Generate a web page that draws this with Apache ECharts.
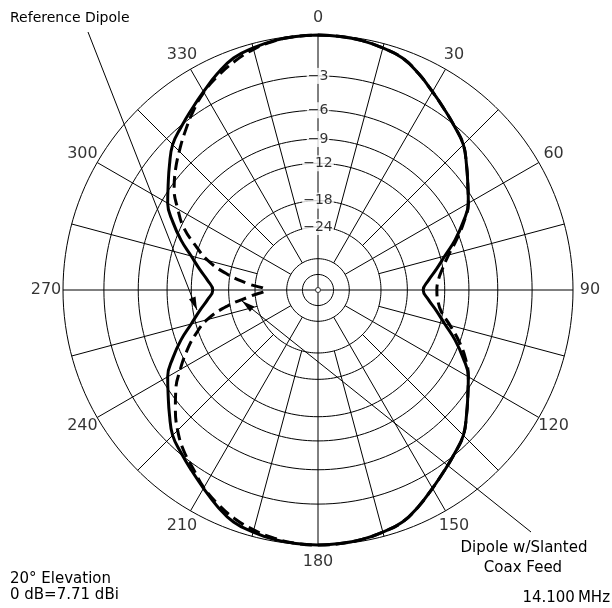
<!DOCTYPE html>
<html>
<head>
<meta charset="utf-8">
<script src="https://cdn.jsdelivr.net/npm/echarts@6/dist/echarts.min.js"></script>
<style>
  html, body { margin: 0; padding: 0; background: #fff; }
  #chart { width: 612px; height: 608px; }
</style>
</head>
<body>
<div id="chart"></div>
<script>
// azimuth in degrees, 0 = broadside (top), clockwise
const angles = [0, 5, 10, 15, 20, 25, 30, 35, 40, 45, 50, 55, 60, 65, 70, 75, 80, 85,
  90, 95, 100, 105, 110, 115, 120, 125, 130, 135, 140, 145, 150, 155, 160, 165, 170, 175,
  180, 185, 190, 195, 200, 205, 210, 215, 220, 225, 230, 235, 240, 245, 250, 255, 260, 265,
  270, 275, 280, 285, 290, 295, 300, 305, 310, 315, 320, 325, 330, 335, 340, 345, 350, 355];

// relative gain in dB (0 dB = 7.71 dBi)
const referenceDipole = [0, -0.03, -0.12, -0.3, -0.55, -1.15, -1.85, -2.5, -3.1, -3.7, -4.7, -5.7, -6.6, -8.0, -9.6, -11.4, -12.9, -14.3,
  -15.2, -14.3, -12.9, -11.4, -9.6, -8.0, -6.6, -5.7, -4.7, -3.7, -3.1, -2.5, -1.85, -1.15, -0.55, -0.3, -0.12, -0.03,
  0, -0.03, -0.12, -0.3, -0.55, -1.15, -1.85, -2.5, -3.1, -3.7, -4.7, -5.7, -6.6, -8.0, -9.6, -11.4, -12.9, -14.3,
  -15.2, -14.3, -12.9, -11.4, -9.6, -8.0, -6.6, -5.7, -4.7, -3.7, -3.1, -2.5, -1.85, -1.15, -0.55, -0.3, -0.12, -0.03];

const slantedCoaxFeed = [0, -0.03, -0.12, -0.3, -0.55, -1.15, -1.85, -2.5, -3.1, -3.7, -4.7, -5.7, -6.6, -7.9, -9.4, -10.9, -12.0, -12.8,
  -13.1, -12.9, -12.2, -10.7, -9.1, -7.7, -6.6, -5.7, -4.7, -3.7, -3.1, -2.5, -1.85, -1.15, -0.55, -0.3, -0.12, -0.03,
  0, -0.05, -0.2, -0.45, -0.8, -1.3, -1.9, -2.7, -3.4, -4.3, -5.4, -6.6, -8.1, -9.7, -11.5, -13.7, -17.5, -23.0,
  -27.0, -22.3, -17.4, -13.8, -11.5, -9.3, -7.8, -6.4, -5.4, -4.5, -3.6, -2.7, -1.9, -1.3, -0.8, -0.4, -0.15, -0.03];

const ringDb = [-3, -6, -9, -12, -18, -24];
const innerRingDb = [-36, -48];
const angleLabels = [0, 30, 60, 90, 120, 150, 180, 210, 240, 270, 300, 330];

const FONT = 'DejaVu Sans';
const FULL = 255;    // px radius of the 0 dB circle
const OUTER = 280;   // polar radius, room for the angle labels
const LABEL_R = 272;

// ARRL log scale: every 2 dB shrinks the radius by 0.89
const toRadius = db => Math.pow(0.89, -db / 2);

const chart = echarts.init(document.getElementById('chart'));

function circle(r) {
  const pts = [];
  for (let a = 0; a <= 360; a += 2) pts.push([r, a]);
  return pts;
}

const gridLine = data => ({
  type: 'line',
  coordinateSystem: 'polar',
  data: data,
  symbol: 'none',
  silent: true,
  lineStyle: { color: '#000', width: 1 },
  z: 1
});

const curve = (values, lineType) => ({
  type: 'line',
  coordinateSystem: 'polar',
  symbol: 'none',
  smooth: 0.45,
  data: angles.map((a, i) => [toRadius(values[i]), a]).concat([[toRadius(values[0]), 360]]),
  lineStyle: { color: '#000', width: 3, type: lineType },
  z: 5
});

// rings
const rings = [0].concat(ringDb, innerRingDb).map(db => gridLine(circle(toRadius(db))));

// spokes every 15 deg; axes run to the centre, 30s to the -36 ring, the rest to -24
const spokes = [];
for (let a = 0; a < 360; a += 15) {
  let r0 = toRadius(-24);
  if (a % 90 === 0) r0 = 2.5 / FULL;
  else if (a % 30 === 0) r0 = toRadius(-36);
  spokes.push(gridLine([[r0, a], [1, a]]));
}

function arrowHead(from, tip, len, half) {
  const dx = tip[0] - from[0], dy = tip[1] - from[1];
  const d = Math.hypot(dx, dy);
  const ux = dx / d, uy = dy / d;
  const bx = tip[0] - ux * len, by = tip[1] - uy * len;
  return [tip, [bx - uy * half, by + ux * half], [bx + uy * half, by - ux * half]];
}

const refFrom = [88, 32], refTip = [197, 310];
const coaxFrom = [531, 532], coaxTip = [242, 301];

const text = (x, y, str, align, size) => ({
  type: 'text',
  x: x, y: y,
  style: { text: str, fill: '#000', font: size + 'px "' + FONT + '"', align: align, verticalAlign: 'middle' }
});

chart.setOption({
  animation: false,
  backgroundColor: '#fff',
  polar: { center: [318, 290], radius: OUTER },
  angleAxis: {
    type: 'value', min: 0, max: 360, startAngle: 90, clockwise: true,
    axisLine: { show: false }, axisTick: { show: false }, axisLabel: { show: false }, splitLine: { show: false }
  },
  radiusAxis: {
    type: 'value', min: 0, max: OUTER / FULL,
    axisLine: { show: false }, axisTick: { show: false }, axisLabel: { show: false }, splitLine: { show: false }
  },
  series: rings.concat(spokes, [
    {
      // small circle at the centre
      type: 'scatter', coordinateSystem: 'polar', data: [[0, 0]], symbolSize: 5, silent: true,
      itemStyle: { color: '#fff', borderColor: '#000', borderWidth: 1 }, z: 2
    },
    {
      type: 'scatter', coordinateSystem: 'polar', silent: true,
      data: ringDb.map(db => [toRadius(db), 0]),
      symbolSize: 1, itemStyle: { color: 'rgba(0,0,0,0)' }, z: 3,
      label: {
        show: true, position: 'inside', color: '#000', fontFamily: FONT, fontSize: 14,
        backgroundColor: '#fff', padding: [1, 1],
        formatter: p => '\u2212' + Math.abs(ringDb[p.dataIndex])
      }
    },
    {
      type: 'scatter', coordinateSystem: 'polar', silent: true,
      data: angleLabels.map(a => [LABEL_R / FULL, a]),
      symbolSize: 1, itemStyle: { color: 'rgba(0,0,0,0)' }, z: 3,
      label: {
        show: true, position: 'inside', color: '#000', fontFamily: FONT, fontSize: 16,
        formatter: p => String(angleLabels[p.dataIndex])
      }
    },
    curve(referenceDipole, 'solid'),
    curve(slantedCoaxFeed, [12, 6])
  ]),
  graphic: [
    text(10, 18, 'Reference Dipole', 'left', 14),
    text(524, 548, 'Dipole w/Slanted', 'center', 15),
    text(523, 568, 'Coax Feed', 'center', 15),
    text(610, 598, '14.100\u2009MHz', 'right', 15),
    text(10, 579, '20\u00b0 Elevation', 'left', 15),
    text(10, 595, '0 dB=7.71 dBi', 'left', 15),
    {
      type: 'line', shape: { x1: refFrom[0], y1: refFrom[1], x2: refTip[0], y2: refTip[1] },
      style: { stroke: '#000', lineWidth: 1 }
    },
    { type: 'polygon', shape: { points: arrowHead(refFrom, refTip, 13, 3.5) }, style: { fill: '#000' } },
    {
      type: 'line', shape: { x1: coaxFrom[0], y1: coaxFrom[1], x2: coaxTip[0], y2: coaxTip[1] },
      style: { stroke: '#000', lineWidth: 1 }
    },
    { type: 'polygon', shape: { points: arrowHead(coaxFrom, coaxTip, 13, 3.5) }, style: { fill: '#000' } }
  ]
});
</script>
</body>
</html>
